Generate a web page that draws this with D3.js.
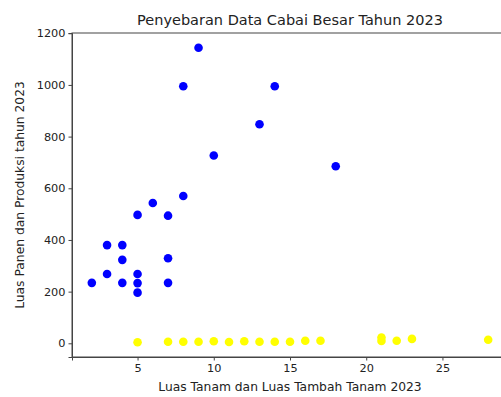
<!DOCTYPE html>
<html>
<head>
<meta charset="utf-8">
<script src="https://cdn.jsdelivr.net/npm/d3@7"></script>
<style>
  body { margin: 0; background: #fff; }
  svg { display: block; }
</style>
</head>
<body>
<div id="chart"></div>
<script>
let font = "DejaVu Sans"

// Luas Tanam (x) vs Luas Panen / Produksi (y)
let tanamX = [2, 3, 3, 4, 4, 4, 5, 5, 5, 5, 6, 7, 7, 7, 8, 8, 9, 10, 13, 14, 18]
let panenY = [234, 380, 268, 380, 323, 234, 497, 268, 233, 196, 543, 494, 329, 234, 570, 995, 1144, 727, 848, 995, 685]

// Luas Tambah Tanam (x) vs Luas Panen (y)
let tambahX = [5, 7, 8, 9, 10, 11, 12, 13, 14, 15, 16, 17, 21, 21, 22, 23, 28]
let tambahY = [4, 6, 6, 6, 8, 5, 8, 6, 6, 6, 10, 10, 22, 9, 10, 17, 14]

let xTicks = [5, 10, 15, 20, 25]
let yTicks = [0, 200, 400, 600, 800, 1000, 1200]

let judul = "Penyebaran Data Cabai Besar Tahun 2023"
let labelX = "Luas Tanam dan Luas Tambah Tanam 2023"
let labelY = "Luas Panen dan Produksi tahun 2023"

function gambar() {
    let lebar = 501, tinggi = 397
    // plot area (right edge runs past the window, like the cropped original)
    let margin = { top: 33, left: 72, bottom: 40, right: -7 }
    let w = lebar - margin.left - margin.right
    let h = tinggi - margin.top - margin.bottom

    // matplotlib-like 5% padding around the data
    let semuaX = tanamX.concat(tambahX)
    let semuaY = panenY.concat(tambahY)
    let [x0, x1] = d3.extent(semuaX)
    let [y0, y1] = d3.extent(semuaY)
    let px = (x1 - x0) * 0.05, py = (y1 - y0) * 0.05

    let x = d3.scaleLinear().domain([x0 - px, x1 + px]).range([0, w])
    let y = d3.scaleLinear().domain([y0 - py, y1 + py]).range([h, 0])

    let svg = d3.select("#chart").append("svg")
        .attr("width", lebar)
        .attr("height", tinggi)
        .style("font-family", font)

    let g = svg.append("g")
        .attr("transform", "translate(" + margin.left + "," + margin.top + ")")

    // frame
    g.append("rect")
        .attr("x", 0).attr("y", 0)
        .attr("width", w).attr("height", h)
        .attr("fill", "none")
        .attr("stroke", "#444")
        .attr("stroke-width", 1)

    let ax = g.append("g")
        .attr("transform", "translate(0," + h + ")")
        .call(d3.axisBottom(x).tickValues(xTicks).tickSize(3.5).tickPadding(3).tickFormat(d3.format("d")))
    let ay = g.append("g")
        .call(d3.axisLeft(y).tickValues(yTicks).tickSize(3.5).tickPadding(3).tickFormat(d3.format("d")))

    ;[ax, ay].forEach(a => {
        a.select(".domain").attr("stroke", "#444")
        a.selectAll(".tick line").attr("stroke", "#444")
        a.selectAll(".tick text")
            .attr("font-family", font)
            .attr("font-size", "11.3px")
            .attr("fill", "#222")
    })

    // points
    g.selectAll(".biru").data(tanamX).enter().append("circle")
        .attr("class", "biru")
        .attr("cx", (d, i) => x(d))
        .attr("cy", (d, i) => y(panenY[i]))
        .attr("r", 4.3)
        .attr("fill", "blue")

    g.selectAll(".kuning").data(tambahX).enter().append("circle")
        .attr("class", "kuning")
        .attr("cx", (d, i) => x(d))
        .attr("cy", (d, i) => y(tambahY[i]))
        .attr("r", 4.3)
        .attr("fill", "yellow")

    // texts
    svg.append("text")
        .attr("x", margin.left + w / 2)
        .attr("y", 25)
        .attr("text-anchor", "middle")
        .attr("font-size", "14.5px")
        .attr("fill", "#222")
        .text(judul)

    svg.append("text")
        .attr("x", margin.left + w / 2)
        .attr("y", 391)
        .attr("text-anchor", "middle")
        .attr("font-size", "12.3px")
        .attr("fill", "#222")
        .text(labelX)

    svg.append("text")
        .attr("transform", "translate(24," + (margin.top + h / 2) + ") rotate(-90)")
        .attr("text-anchor", "middle")
        .attr("font-size", "12.3px")
        .attr("fill", "#222")
        .text(labelY)
}

gambar()
</script>
</body>
</html>
